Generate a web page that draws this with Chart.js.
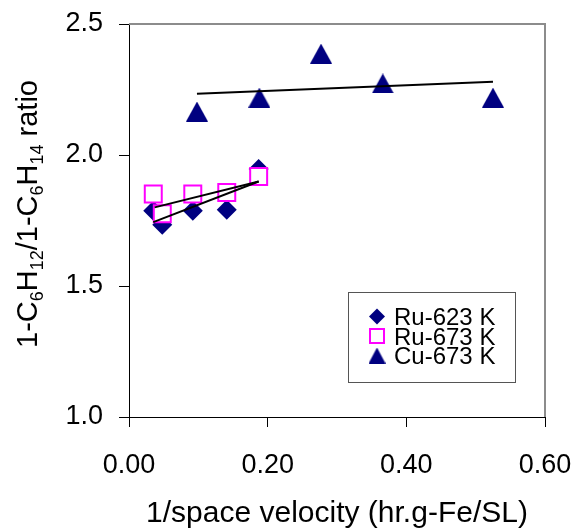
<!DOCTYPE html>
<html>
<head>
<meta charset="utf-8">
<script src="https://cdn.jsdelivr.net/npm/chart.js@4"></script>
<style>
  html, body { margin: 0; padding: 0; background: #fff; }
  #wrap { width: 576px; height: 529px; }
</style>
</head>
<body>
<div id="wrap"><canvas id="ratioChart" width="576" height="529"></canvas></div>
<script>
// 1/space velocity values for the Ru runs (both temperatures share them)
const xRu = [0.035, 0.048, 0.092, 0.141, 0.187];
const yRu623 = [1.787, 1.734, 1.787, 1.791, 1.947];
const yRu673 = [1.851, 1.776, 1.851, 1.857, 1.918];

const xCu = [0.098, 0.188, 0.277, 0.366, 0.525];
const yCu673 = [2.166, 2.219, 2.387, 2.273, 2.219];

// linear trend lines, end points
const trendRu623X = [0.035, 0.187];
const trendRu623Y = [1.744, 1.899];
const trendRu673X = [0.037, 0.187];
const trendRu673Y = [1.800, 1.899];
const trendCuX = [0.098, 0.525];
const trendCuY = [2.234, 2.280];

const seriesNames = ['Ru-623 K', 'Ru-673 K', 'Cu-673 K'];
const yTickValues = [1.0, 1.5, 2.0, 2.5];
const xTickValues = [0.00, 0.20, 0.40, 0.60];

const NAVY = '#000080';
const MAGENTA = '#FF00FF';
const FONT = '"Liberation Sans", Arial, sans-serif';

function pts(xs, ys) {
  return xs.map((x, i) => ({ x: x, y: ys[i] }));
}

// triangle marker that fills its own box, so the point sits at the box middle
function makeTriangle(w, h, color) {
  const c = document.createElement('canvas');
  c.width = w;
  c.height = h;
  const g = c.getContext('2d');
  g.fillStyle = color;
  g.beginPath();
  g.moveTo(w / 2, 0);
  g.lineTo(w, h);
  g.lineTo(0, h);
  g.closePath();
  g.fill();
  return c;
}
const triBig = makeTriangle(22, 20, NAVY);
const triSmall = makeTriangle(17, 16, NAVY);

function trendSet(xs, ys) {
  return {
    data: pts(xs, ys),
    showLine: true,
    borderColor: '#000',
    borderWidth: 2,
    pointRadius: 0,
    pointHoverRadius: 0,
    order: 0
  };
}

function noScalePadding(s) {
  s.paddingLeft = 0;
  s.paddingRight = 0;
  s.paddingTop = 0;
  s.paddingBottom = 0;
}

// gray frame on the top and right of the plot
const frame = {
  id: 'frame',
  beforeDatasetsDraw(chart) {
    const a = chart.chartArea;
    const ctx = chart.ctx;
    ctx.save();
    ctx.strokeStyle = '#8c8c8c';
    ctx.lineWidth = 2;
    ctx.beginPath();
    ctx.moveTo(a.left, a.top);
    ctx.lineTo(a.right, a.top);
    ctx.lineTo(a.right, a.bottom);
    ctx.stroke();
    ctx.restore();
  }
};

// axis titles (y title has subscripts) and the boxed legend
const annotations = {
  id: 'annotations',
  afterDraw(chart) {
    const ctx = chart.ctx;
    const a = chart.chartArea;
    ctx.save();
    ctx.fillStyle = '#000';

    // x title
    ctx.font = '30px ' + FONT;
    ctx.textAlign = 'center';
    ctx.textBaseline = 'alphabetic';
    ctx.fillText('1/space velocity (hr.g-Fe/SL)', (a.left + a.right) / 2, 522);

    // y title, pieces: [text, isSubscript]
    const parts = [['1-C', 0], ['6', 1], ['H', 0], ['12', 1], ['/1-C', 0], ['6', 1], ['H', 0], ['14', 1], [' ratio', 0]];
    const big = '29px ' + FONT;
    const small = '18px ' + FONT;
    let total = 0;
    parts.forEach(p => {
      ctx.font = p[1] ? small : big;
      total += ctx.measureText(p[0]).width;
    });
    ctx.translate(37, 214);
    ctx.rotate(-Math.PI / 2);
    ctx.textAlign = 'left';
    let cx = -total / 2;
    parts.forEach(p => {
      ctx.font = p[1] ? small : big;
      ctx.fillText(p[0], cx, p[1] ? 6 : 0);
      cx += ctx.measureText(p[0]).width;
    });
    ctx.setTransform(1, 0, 0, 1, 0, 0);

    // legend
    ctx.strokeStyle = '#555';
    ctx.lineWidth = 1;
    ctx.strokeRect(348.5, 292.5, 167, 90);
    ctx.font = '24px ' + FONT;
    ctx.textAlign = 'left';
    const rows = [325, 344.5, 364];
    rows.forEach((base, i) => {
      const my = base - 8.5;
      if (i === 0) {
        ctx.fillStyle = NAVY;
        ctx.beginPath();
        ctx.moveTo(377 - 8, my);
        ctx.lineTo(377, my - 8);
        ctx.lineTo(377 + 8, my);
        ctx.lineTo(377, my + 8);
        ctx.closePath();
        ctx.fill();
      } else if (i === 1) {
        ctx.strokeStyle = MAGENTA;
        ctx.lineWidth = 2;
        ctx.fillStyle = '#fff';
        ctx.fillRect(370, my - 7, 14, 14);
        ctx.strokeRect(370, my - 7, 14, 14);
      } else {
        ctx.drawImage(triSmall, 377 - triSmall.width / 2, my - triSmall.height / 2);
      }
      ctx.fillStyle = '#000';
      ctx.fillText(seriesNames[i], 394, base);
    });
    ctx.restore();
  }
};

new Chart(document.getElementById('ratioChart'), {
  type: 'scatter',
  data: {
    datasets: [
      trendSet(trendRu623X, trendRu623Y),
      trendSet(trendRu673X, trendRu673Y),
      trendSet(trendCuX, trendCuY),
      {
        label: seriesNames[1],
        data: pts(xRu, yRu673),
        pointStyle: 'rect',
        pointRadius: 12,
        pointHoverRadius: 12,
        pointBorderWidth: 2,
        pointBorderColor: MAGENTA,
        pointBackgroundColor: '#fff',
        order: 1
      },
      {
        label: seriesNames[2],
        data: pts(xCu, yCu673),
        pointStyle: triBig,
        pointRadius: 11,
        order: 2
      },
      {
        label: seriesNames[0],
        data: pts(xRu, yRu623),
        pointStyle: 'rectRot',
        pointRadius: 10,
        pointHoverRadius: 10,
        pointBorderWidth: 0,
        pointBackgroundColor: NAVY,
        pointBorderColor: NAVY,
        order: 3
      }
    ]
  },
  options: {
    responsive: false,
    animation: false,
    events: [],
    layout: { padding: { left: 0, right: 31, top: 24, bottom: 0 } },
    plugins: { legend: { display: false }, tooltip: { enabled: false } },
    scales: {
      x: {
        type: 'linear',
        min: 0,
        max: 0.6,
        afterFit(s) { s.height = 112; noScalePadding(s); },
        afterBuildTicks(s) { s.ticks = xTickValues.map(v => ({ value: v })); },
        grid: { drawOnChartArea: false, drawTicks: true, tickLength: 10, color: '#000' },
        border: { color: '#000', width: 1 },
        ticks: {
          color: '#000',
          font: { family: FONT, size: 27 },
          padding: 22,
          maxRotation: 0,
          callback: v => v.toFixed(2)
        }
      },
      y: {
        type: 'linear',
        min: 1.0,
        max: 2.5,
        afterFit(s) { s.width = 129; noScalePadding(s); },
        afterBuildTicks(s) { s.ticks = yTickValues.map(v => ({ value: v })); },
        grid: { drawOnChartArea: false, drawTicks: true, tickLength: 10, color: '#000' },
        border: { color: '#000', width: 1 },
        ticks: {
          color: '#000',
          font: { family: FONT, size: 27 },
          padding: 16,
          callback: v => v.toFixed(1)
        }
      }
    }
  },
  plugins: [frame, annotations]
});
</script>
</body>
</html>
